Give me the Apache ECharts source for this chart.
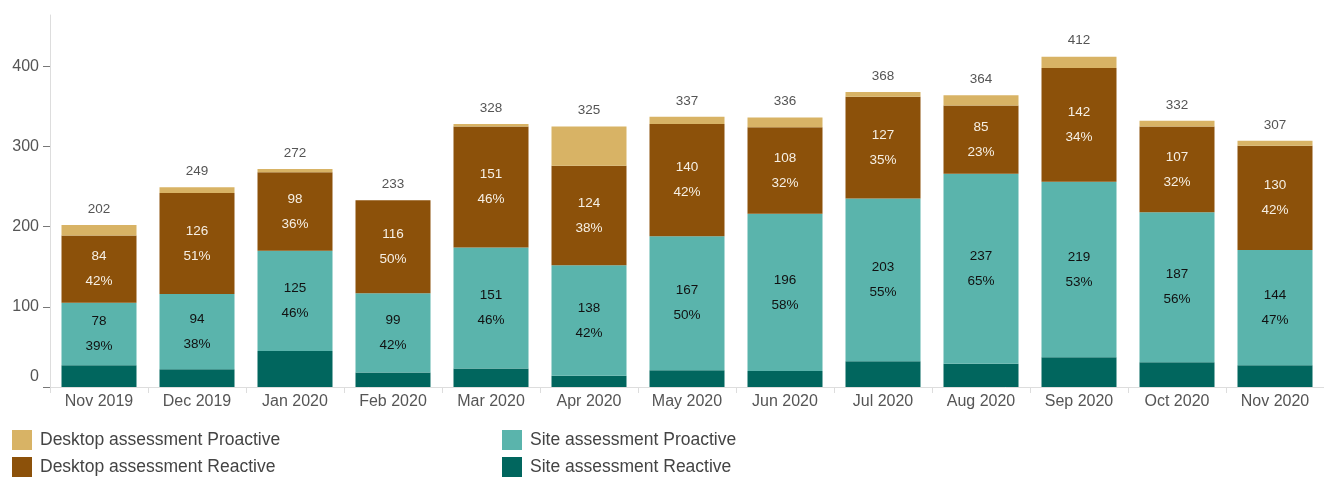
<!DOCTYPE html>
<html>
<head>
<meta charset="utf-8">
<script src="https://cdn.jsdelivr.net/npm/echarts@6/dist/echarts.min.js"></script>
<style>
html,body{margin:0;padding:0;background:#fff;}
#c{width:1324px;height:478px;}
</style>
</head>
<body>
<div id="c"></div>
<script>
var categories = ['Nov 2019','Dec 2019','Jan 2020','Feb 2020','Mar 2020','Apr 2020','May 2020','Jun 2020','Jul 2020','Aug 2020','Sep 2020','Oct 2020','Nov 2020'];
var siteReactive = [27,22,45,18,23,14,21,20,32,29,37,31,27];
var siteProactive = [78,94,125,99,151,138,167,196,203,237,219,187,144];
var deskReactive = [84,126,98,116,151,124,140,108,127,85,142,107,130];
var deskProactive = [13,7,4,0,3,49,9,12,6,13,14,7,6];
var yTicks = [0,100,200,300,400];

var totals = categories.map(function(_, i){
  return siteReactive[i] + siteProactive[i] + deskReactive[i] + deskProactive[i];
});

var FONT = "'Liberation Sans', Arial, sans-serif";

function pctLabel(p){
  var v = p.value;
  var pct = Math.round(v / totals[p.dataIndex] * 100);
  return v + '\n' + pct + '%';
}

function legendCfg(left, names){
  return {
    orient: 'vertical', left: left, top: 430, height: 70, padding: 0,
    itemWidth: 20, itemHeight: 20, itemGap: 7, icon: 'rect',
    textStyle: {fontSize: 17.5, color: '#444', fontFamily: FONT, padding: [0,0,0,3]},
    data: names,
    selectedMode: false
  };
}

var chart = echarts.init(document.getElementById('c'));
chart.setOption({
  animation: false,
  textStyle: {fontFamily: FONT},
  color: ['#01665e','#5ab4ac','#8c510a','#d8b365'],
  grid: {left: 50, top: 15, width: 1285, height: 372},
  legend: [
    legendCfg(12, ['Desktop assessment Proactive','Desktop assessment Reactive']),
    legendCfg(502, ['Site assessment Proactive','Site assessment Reactive'])
  ],
  xAxis: {
    type: 'category',
    data: categories,
    axisLine: {show: true, lineStyle: {color: '#dddddd', width: 1}},
    axisTick: {show: true, length: 6, lineStyle: {color: '#dddddd'}},
    axisLabel: {fontSize: 16, color: '#555', margin: 7, fontFamily: FONT}
  },
  yAxis: {
    type: 'value',
    min: 0, max: 464, interval: 100,
    axisLine: {show: true, lineStyle: {color: '#dddddd', width: 1}},
    axisTick: {show: true, length: 7, customValues: yTicks, lineStyle: {color: '#777'}},
    splitLine: {show: false},
    axisLabel: {
      fontSize: 16, color: '#555', margin: 11, fontFamily: FONT,
      customValues: yTicks,
      formatter: function(v){ return v === 0 ? '{z|0}' : String(v); },
      rich: {z: {fontSize: 16, color: '#555', fontFamily: FONT, padding: [0,0,20,0]}}
    }
  },
  series: [
    {
      name: 'Site assessment Reactive', type: 'bar', stack: 'all', barWidth: 75,
      data: siteReactive, label: {show: false}, emphasis: {disabled: true}
    },
    {
      name: 'Site assessment Proactive', type: 'bar', stack: 'all', barWidth: 75,
      data: siteProactive, emphasis: {disabled: true},
      label: {show: true, position: 'inside', formatter: pctLabel, color: '#111', fontSize: 13.5, lineHeight: 25, fontFamily: FONT}
    },
    {
      name: 'Desktop assessment Reactive', type: 'bar', stack: 'all', barWidth: 75,
      data: deskReactive, emphasis: {disabled: true},
      label: {show: true, position: 'inside', formatter: pctLabel, color: '#f6efe4', fontSize: 13.5, lineHeight: 25, fontFamily: FONT}
    },
    {
      name: 'Desktop assessment Proactive', type: 'bar', stack: 'all', barWidth: 75,
      data: deskProactive, emphasis: {disabled: true},
      label: {show: true, position: 'top', distance: 9, color: '#555', fontSize: 13.5, fontFamily: FONT,
        formatter: function(p){ return totals[p.dataIndex]; }}
    }
  ]
});
</script>
</body>
</html>
